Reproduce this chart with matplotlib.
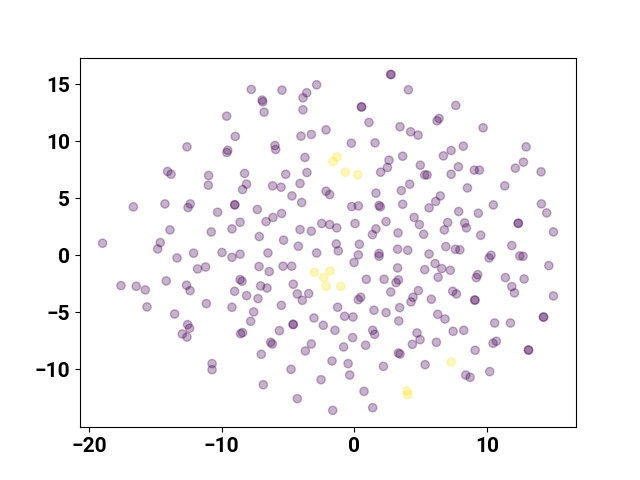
import matplotlib
matplotlib.use("Agg")
import matplotlib.pyplot as plt
import numpy as np

plt.rcParams['font.family'] = ['Roboto', 'DejaVu Sans']

purple_x = [-12.61, -14.07, -13.81, -10.98, -7.76, -5.45, -2.84, -3.59, -3.87, -6.95,
            -6.9, -6.8, -3.87, -9.62, -8.97, -4.02, -3.24, -2.13, -9.54, -9.6,
            -5.98, -5.93, -3.72, -8.27, -5.17, -3.57, 2.74, 2.76, 4.07, 0.53,
            0.55, 7.64, 1.1, 3.44, 4.24, 4.8, 6.23, 6.38, -0.23, 1.56,
            2.61, 2.49, 1.98, 3.64, 4.97, 5.3, 5.48, 6.71, 7.29, 7.84,
            7.29, 9.7, 8.21, 12.94, 9.04, 9.42, 12.13, 12.74, 14.07, -11.0,
            -16.65, -14.27, -12.53, -12.36, -13.89, -10.78, -18.97, -14.62, -14.82, -13.36,
            -12.11, -11.81, -11.21, -17.58, -16.43, -15.75, -14.17, -12.64, -12.38, -15.62,
            -8.12, -8.42, -6.16, -5.52, -4.09, -4.7, -3.97, -2.13, -1.86, -9.02,
            -9.0, -10.3, -7.31, -6.65, -6.13, -5.48, -9.22, -8.61, -7.16, -5.33,
            -4.09, -3.24, -2.46, -1.86, -1.33, -4.22, -2.84, -6.51, -9.97, -9.22,
            -8.61, -7.18, -6.41, -5.37, -4.72, -8.61, -8.46, -7.06, -6.58, -4.6,
            -9.02, -8.12, -7.26, -4.3, -3.92, -3.44, 4.17, 3.54, 1.63, -0.2,
            0.3, 1.86, 1.96, 3.64, 6.48, 6.13, 5.63, 7.86, 0.05, 2.39,
            4.5, 4.9, 5.22, 7.03, 6.78, 3.29, 1.63, 1.36, -1.36, -1.21,
            0.38, 0.3, -0.02, 1.86, 1.86, 3.26, 4.02, 5.63, 6.89, 7.61,
            7.95, 6.08, 6.58, 7.23, 5.3, 6.31, 3.26, 0.9, 2.24, 3.32,
            3.14, 2.74, 4.82, 4.42, 4.27, 5.8, 7.41, 7.69, 0.48, 0.3,
            8.52, 11.33, 10.47, 14.09, 14.49, 9.34, 12.34, 12.36, 8.31, 8.44,
            9.52, 15.0, 11.86, 12.46, 12.71, 10.15, 10.3, 14.65, 9.29, 9.19,
            11.38, 12.79, 11.86, 12.06, 15.0, 9.07, 9.09, -13.54, -12.56, -12.41,
            -12.96, -12.61, -11.15, -10.72, -10.72, -9.22, -7.59, -7.81, -5.5, -8.57,
            -8.42, -5.65, -6.31, -6.18, -4.62, -4.6, -3.04, -2.34, -1.46, -3.24,
            -3.69, -7.01, -4.77, -6.86, -2.51, -4.3, -1.68, -1.63, -1.26, -0.73,
            -0.1, 1.48, 2.39, 3.41, 3.35, 6.28, 6.83, 1.38, 1.53, 4.72,
            4.95, 4.37, 7.44, 6.18, -0.13, -0.81, 0.85, 3.32, 3.44, -0.47,
            -0.35, 2.19, 5.33, 0.73, 1.38, 14.24, 14.26, 10.57, 11.76, 8.24,
            10.45, 10.7, 9.1, 13.11, 13.13, 8.39, 8.72, 10.2]

purple_y = [9.5, 7.34, 7.1, 6.99, 14.53, 14.47, 14.94, 14.24, 13.8, 13.6,
            13.45, 12.54, 12.75, 12.19, 10.41, 10.44, 10.59, 10.99, 9.2, 9.0,
            9.62, 9.27, 8.57, 7.17, 7.1, 7.25, 15.85, 15.83, 14.5, 13.01,
            12.99, 13.13, 11.64, 11.26, 10.82, 10.53, 11.78, 11.99, 9.82, 9.85,
            8.33, 7.69, 7.28, 8.68, 7.89, 7.04, 7.04, 8.71, 9.18, 7.75,
            7.1, 11.17, 9.56, 9.5, 7.46, 7.46, 7.63, 8.16, 7.31, 6.14,
            4.24, 4.5, 4.18, 4.5, 2.22, 2.04, 1.05, 1.11, 0.55, -0.24,
            0.18, -1.2, -1.03, -2.66, -2.72, -3.04, -2.25, -2.63, -3.1, -4.53,
            6.23, 5.76, 6.08, 5.96, 6.29, 5.2, 4.62, 5.61, 5.32, 4.41,
            4.43, 3.77, 4.01, 2.95, 3.31, 3.66, 2.31, 2.89, 1.64, 1.32,
            2.25, 2.11, 2.78, 2.69, 2.4, 0.79, 0.2, 0.2, 0.24, -0.18,
            0.09, -0.99, -1.43, -0.96, -0.96, -2.13, -2.28, -2.69, -2.87, -2.54,
            -3.16, -3.54, -3.8, -3.39, -3.95, -3.36, 6.23, 5.67, 5.44, 4.27,
            4.32, 4.36, 4.24, 4.47, 5.2, 4.71, 4.15, 3.83, 2.78, 2.95,
            3.31, 2.69, 1.84, 2.87, 2.22, 1.96, 2.31, 1.81, 0.99, 0.38,
            0.96, 0.03, -0.64, 0.15, -0.09, 0.53, 0.44, 0.11, 0.76, 0.52,
            0.47, -0.73, -1.17, -1.32, -1.26, -1.93, -1.11, -2.11, -2.11, -2.16,
            -2.4, -3.22, -3.1, -3.68, -4.09, -3.86, -3.16, -3.39, -3.68, -3.89,
            5.9, 6.08, 4.41, 4.5, 3.71, 3.68, 2.81, 2.79, 2.83, 2.4,
            1.75, 2.04, 0.85, -0.06, -0.09, -0.24, 0.0, -0.91, -1.7, -1.96,
            -1.96, -2.08, -2.75, -3.3, -3.57, -3.92, -3.94, -5.15, -6.08, -6.4,
            -6.9, -7.17, -4.24, -9.5, -10.03, -4.56, -4.97, -5.79, -4.39, -6.87,
            -6.78, -6.61, -7.63, -7.78, -6.05, -6.08, -5.5, -6.14, -6.58, -7.78,
            -8.39, -8.68, -10.0, -11.35, -10.91, -12.57, -9.27, -13.6, -4.56, -5.35,
            -5.41, -4.82, -5.03, -4.59, -5.76, -5.18, -5.59, -6.58, -6.93, -6.81,
            -7.4, -7.81, -6.67, -7.63, -7.22, -8.04, -7.89, -8.57, -8.66, -9.5,
            -10.5, -9.74, -9.59, -11.93, -13.36, -5.41, -5.43, -5.94, -5.94, -6.58,
            -7.72, -7.54, -8.33, -8.3, -8.32, -10.5, -10.7, -10.2]

yellow_x = [-1.31, -1.62, -0.68, 0.25, -3.01, -1.83, -2.31, -2.13, -1.03, 3.97, 4.02, 7.31]
yellow_y = [8.63, 8.22, 7.28, 7.05, -1.49, -1.38, -1.96, -2.72, -2.72, -11.9, -12.22, -9.36]

x_ticks = [-20, -10, 0, 10]
y_ticks = [-10, -5, 0, 5, 10, 15]

x = np.array(purple_x + yellow_x)
y = np.array(purple_y + yellow_y)
labels = np.array([0] * len(purple_x) + [1] * len(yellow_x))

fig, ax = plt.subplots(figsize=(6.4, 4.8), dpi=100)
ax.scatter(x, y, c=labels, cmap='viridis', alpha=0.3)
ax.set_xticks(x_ticks)
ax.set_yticks(y_ticks)
for lab in ax.get_xticklabels() + ax.get_yticklabels():
    lab.set_fontsize(15)
    lab.set_fontweight('bold')
fig.savefig('out.png', dpi=100)
